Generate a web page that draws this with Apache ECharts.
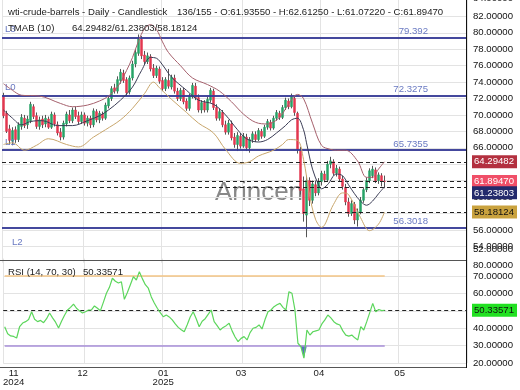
<!DOCTYPE html>
<html><head><meta charset="utf-8">
<script src="https://cdn.jsdelivr.net/npm/echarts@6/dist/echarts.min.js"></script>
<style>html,body{margin:0;padding:0;background:#fff}#c{width:520px;height:390px}</style>
</head><body><div id="c"></div>
<script>
const slotCount = 155;
const open  = [72.3,70.2,68.3,66.8,68.2,67.0,68.6,69.6,68.8,69.3,71.0,69.9,68.6,69.5,68.9,69.5,68.5,70.0,68.8,67.9,67.3,68.9,70.0,69.3,70.6,69.9,69.2,70.0,69.0,69.6,68.8,70.4,69.4,70.1,69.6,71.1,72.0,73.3,72.9,74.2,75.1,74.3,72.8,74.5,76.2,77.5,79.2,77.3,76.5,77.1,75.7,74.8,75.6,74.2,73.2,74.2,73.4,74.5,72.9,72.0,73.0,71.7,70.8,72.2,73.5,72.1,70.6,71.5,70.6,71.8,72.9,70.9,69.6,70.3,68.8,67.9,68.9,67.3,66.4,67.4,66.2,67.3,66.0,67.0,67.6,67.0,68.0,67.4,68.5,69.1,68.4,69.6,70.2,69.7,70.9,71.7,71.0,72.0,70.2,65.7,61.0,57.8,62.0,59.6,61.5,60.5,61.9,62.8,62.1,64.0,64.3,62.9,63.4,62.2,61.2,59.4,58.0,59.1,57.2,58.2,59.6,60.9,62.0,62.6,63.3,62.0,62.6,61.9355];
const high  = [72.7,70.5,68.8,68.5,68.6,69.1,70.1,70.0,69.9,71.6,71.3,70.3,69.8,69.9,70.0,69.8,70.4,70.3,69.2,68.4,69.3,70.4,70.6,70.9,71.0,70.4,70.4,70.3,69.9,69.9,70.8,70.7,70.5,70.4,71.5,72.3,73.5,73.8,74.7,75.6,75.5,74.6,74.8,76.6,78.0,79.8,79.6,77.8,77.6,77.4,76.2,76.0,75.9,74.6,74.6,75.6,74.9,74.9,73.3,73.3,73.3,72.0,72.6,73.9,73.9,72.5,71.8,71.8,72.2,73.3,73.2,71.3,70.8,70.6,69.3,69.4,69.3,67.8,67.9,67.8,67.8,67.7,67.3,68.0,68.0,68.4,68.3,68.8,69.5,69.4,69.9,70.6,70.5,71.2,72.1,72.0,72.6,72.4,70.4,66.1,62.5,62.6,62.4,62.0,62.0,62.3,63.2,63.2,64.4,64.9,64.6,63.9,63.7,62.6,61.6,59.9,59.6,59.4,58.6,60.0,61.2,62.4,63.5,63.8,63.6,63.0,62.9,62.6125];
const low   = [69.6,67.8,66.4,66.3,66.6,66.7,68.2,68.4,68.3,69.0,69.5,68.3,68.2,68.4,68.5,68.3,68.3,68.6,67.5,66.9,67.0,68.6,69.0,69.0,69.5,68.9,68.9,68.7,68.6,68.4,68.5,69.1,69.0,69.3,69.4,70.8,71.7,72.6,72.6,73.8,73.9,72.3,72.5,74.2,75.8,77.2,76.8,76.1,76.2,75.3,74.5,74.5,73.8,72.9,72.9,73.2,73.1,72.6,71.7,71.7,71.3,70.5,70.5,72.0,71.8,70.3,70.2,70.3,70.3,71.5,70.6,69.3,69.3,68.5,67.6,67.6,66.9,66.0,65.6,65.9,66.0,65.6,65.4,66.6,66.7,66.8,67.1,67.2,68.2,68.1,68.2,69.3,69.4,69.5,70.6,70.7,70.8,69.9,65.3,60.3,57.0,55.1,58.9,59.2,60.1,60.2,61.4,61.8,61.9,63.5,62.6,62.5,61.9,60.9,59.0,57.6,57.7,56.7,56.4,57.9,59.3,60.6,61.7,62.3,61.7,61.6,61.3,61.0722];
const close = [69.9,68.0,66.9,68.1,67.0,68.8,69.7,68.7,69.5,71.3,69.8,68.6,69.4,68.8,69.6,68.5,70.1,68.9,67.8,67.3,69.0,70.1,69.3,70.6,69.8,69.2,70.0,69.0,69.6,68.8,70.5,69.4,70.2,69.6,71.2,72.0,73.2,72.9,74.3,75.2,74.2,72.7,74.5,76.2,77.6,79.3,77.2,76.5,77.2,75.6,74.8,75.7,74.1,73.2,74.3,73.5,74.6,72.9,72.0,73.0,71.6,70.8,72.3,73.6,72.1,70.6,71.5,70.6,71.9,73.0,70.9,69.6,70.4,68.8,67.9,69.0,67.2,66.4,67.5,66.2,67.4,66.0,67.0,67.7,67.0,68.1,67.4,68.5,69.2,68.4,69.6,70.3,69.7,70.9,71.8,71.0,72.2,70.3,65.8,60.8,58.0,62.0,59.6,61.6,60.5,61.9,62.9,62.1,64.0,64.4,62.9,63.5,62.2,61.3,59.4,58.0,59.2,57.2,58.2,59.6,60.9,62.0,63.2,63.4,62.0,62.7,61.9,61.8947];
const rsi = [40.9,36.8,35.6,35.3,34.4,41.0,43.0,43.8,45.0,49.5,45.2,43.8,44.5,43.2,45.5,48.8,46.0,43.5,40.2,44.0,47.5,50.5,52.0,53.9,51.5,50.0,48.8,49.5,50.5,50.5,52.8,51.5,50.1,55.0,60.1,63.5,68.7,67.0,66.0,66.7,56.6,60.5,65.0,69.6,67.7,72.5,68.5,65.0,63.0,58.0,54.5,51.5,49.0,46.6,47.6,46.5,44.8,42.5,40.5,39.2,38.0,42.0,46.5,49.5,45.5,40.9,44.0,45.5,48.0,50.5,43.8,41.5,39.0,40.5,41.5,42.9,38.5,35.0,32.3,34.2,35.2,33.3,37.5,40.0,40.5,41.9,39.6,45.0,49.5,50.5,52.4,53.5,54.3,52.0,50.5,61.0,60.1,50.5,31.4,29.4,22.8,39.0,36.1,38.0,38.5,39.0,42.5,44.8,47.6,46.0,43.8,42.5,41.9,38.5,36.1,35.5,36.1,34.5,33.3,40.9,39.0,43.8,49.0,54.3,49.5,50.8,50.1,50.33571];
const tmaMid = [[0,70.6],[3,69.6],[6,68.8],[9,69.2],[13,69.3],[18,68.7],[23,68.7],[28,69.3],[32,69.9],[35,70.6],[39,71.8],[43,73.4],[46,75.4],[49,77.0],[51,76.9],[53,76.1],[56,74.6],[61,73.0],[65,71.8],[70,71.3],[74,70.0],[78,68.2],[81,67.1],[85,66.7],[88,67.0],[91,67.8],[94,68.7],[96,69.4],[98,69.6],[100,68.2],[101,66.6],[103,63.4],[105,61.5],[106,61.0],[108,61.5],[111,62.8],[113,62.6],[115,61.5],[117,60.4],[119,59.5],[121,59.0],[123,59.5],[125,60.4],[127,61.23803]];
const tmaUpper = [[0,73.8],[3,73.0],[6,72.4],[12,72.3],[19,71.4],[23,71.0],[28,71.2],[32,71.7],[35,72.3],[38,73.4],[41,75.4],[43,77.0],[45,79.0],[47,80.5],[49,81.0],[51,80.4],[53,78.9],[55,77.6],[59,76.0],[63,74.5],[68,73.7],[72,72.9],[76,71.6],[80,70.1],[84,69.1],[88,68.9],[92,69.7],[95,71.3],[98,72.5],[100,72.0],[103,69.0],[106,66.3],[109,65.8],[111,65.7],[114,65.7],[118,64.4],[121,62.4],[123,62.4],[125,63.4],[127,64.29482]];
const tmaLower = [[0,66.4],[3,66.6],[7,65.7],[11,66.3],[15,67.1],[21,66.4],[25,66.1],[30,67.3],[34,68.2],[39,69.4],[43,70.8],[47,72.6],[50,74.0],[52,73.3],[56,71.9],[61,70.3],[65,69.0],[70,67.8],[74,65.8],[79,64.1],[82,64.3],[85,65.0],[90,65.7],[93,66.4],[95,67.0],[98,66.9],[100,64.6],[102,60.3],[104,57.3],[106,56.3],[110,59.1],[113,60.5],[115,60.3],[119,57.5],[122,55.9],[125,56.7],[127,58.18124]];
const levels = [79.392, 72.3275, 65.7355, 56.3018];
const levelNames = ['L3','L0','L1','L2'];
const tickIdx = [3,26,53,79,105,132];
const tickText = ['11\n2024','12','01\n2025','03','04','05'];
const gridIdx = [0,27,53,80,106,132];
const rsiBands = [70, 30];

const FONT = "'Liberation Sans', Arial, sans-serif";
const FS = 9.6;
const last = close.length - 1;
const cats = Array.from({length: slotCount}, (_, i) => String(i));
const wickData = open.map((o, i) => [o, o, low[i], high[i]]);
const bodyData = open.map((o, i) => [o, close[i], Math.min(o, close[i]), Math.max(o, close[i])]);
const upLast = tmaUpper[tmaUpper.length-1][1], midLast = tmaMid[tmaMid.length-1][1], lowLast = tmaLower[tmaLower.length-1][1];
const oversold = rsi.map((v, i) => (v < 30 || rsi[i-1] < 30 || rsi[i+1] < 30) ? Math.min(v, 30) : '-');
const f5 = v => Number(v).toFixed(5);

const tagLabel = (val, bg, fg, off) => ({show:true, position:'end', distance:5, formatter: f5(val), fontSize:FS, fontFamily:FONT, color:fg, backgroundColor:bg, padding:[2,3,1,2], offset: off || [0,0]});
const dash = {color:'#222', type:[4,3], width:1};
const lvlColor = '#383c97', lvlText = '#6a7ac2';

const xAxisBase = (gi, showLabel) => ({
  type:'category', gridIndex:gi, data:cats, boundaryGap:true,
  axisLine:{show:false}, axisTick:{show:false},
  axisLabel:{show:showLabel, interval:(i)=>tickIdx.includes(i), formatter:(v,i)=>tickText[tickIdx.indexOf(i)] || '', fontSize:FS, fontFamily:FONT, color:'#222', lineHeight:9, margin:6},
  splitLine:{show:true, interval:(i)=>gridIdx.includes(i), lineStyle:{color:'#e3e3e3', width:1}}
});

const option = {
  animation:false,
  textStyle:{fontFamily:FONT},
  title:[
    {text:'wti-crude-barrels - Daily - Candlestick', left:8, top:7},
    {text:`136/155 - O:${f5(open[last])} - H:${f5(high[last])} - L:${f5(low[last])} - C:${f5(close[last])}`, left:177, top:7},
    {text:'TMAB (10)', left:8, top:23},
    {text:`${f5(upLast)}/${f5(midLast)}/${f5(lowLast)}`, left:72, top:23},
    {text:'RSI (14, 70, 30)', left:8, top:267.5},
    {text:f5(rsi[last]), left:83, top:267.5}
  ].map(t => Object.assign(t, {padding:0, textStyle:{fontSize:FS, fontWeight:'normal', color:'#222', fontFamily:FONT}})),
  grid:[
    {left:2, right:53, top:-5.3, height:268},
    {left:2, right:53, top:258.6, height:104.5}
  ],
  xAxis:[xAxisBase(0,false), xAxisBase(1,true)],
  yAxis:[
    {type:'value', gridIndex:0, position:'right', min:52, max:84, interval:2,
     axisLine:{show:false}, axisTick:{show:false},
     axisLabel:{margin:6, fontSize:FS, fontFamily:FONT, color:'#111', formatter:f5, showMinLabel:false, showMaxLabel:false},
     splitLine:{lineStyle:{color:'#e3e3e3'}, showMinLine:false, showMaxLine:false}},
    {type:'value', gridIndex:1, position:'right', min:20, max:80, interval:10,
     axisLine:{show:false}, axisTick:{show:false},
     axisLabel:{margin:6, fontSize:FS, fontFamily:FONT, color:'#111', formatter:f5, showMaxLabel:false},
     splitLine:{lineStyle:{color:'#e3e3e3'}, showMaxLine:false}}
  ],
  graphic:[
    {type:'text', x:259, y:193, z:0, style:{text:'Arincen', fill:'rgba(115,115,115,0.85)', font:`26px ${FONT}`, textAlign:'center', textVerticalAlign:'middle'}},
    {type:'text', x:473, y:-1.5, z:10, style:{text:'84.00000', fill:'#111', font:`${FS}px ${FONT}`, textVerticalAlign:'middle'}},
    {type:'text', x:473, y:249.5, z:10, style:{text:'52.00000', fill:'#111', font:`${FS}px ${FONT}`, textVerticalAlign:'middle'}},
    {type:'text', x:473, y:265, z:10, style:{text:'80.00000', fill:'#111', font:`${FS}px ${FONT}`, textVerticalAlign:'middle'}},
    {type:'line', z:10, shape:{x1:0,y1:260.5,x2:467,y2:260.5}, style:{stroke:'#555', lineWidth:1}},
    {type:'line', z:10, shape:{x1:0,y1:367.5,x2:467,y2:367.5}, style:{stroke:'#555', lineWidth:1}},
    {type:'line', z:10, shape:{x1:466.5,y1:0,x2:466.5,y2:368}, style:{stroke:'#111', lineWidth:1}}
  ],
  series:[
    {type:'candlestick', name:'wick', xAxisIndex:0, yAxisIndex:0, data:wickData, barWidth:1, z:3,
     itemStyle:{color:'#555', color0:'#555', borderColor:'#555', borderColor0:'#555', borderColorDoji:'#555', borderWidth:1},
     markLine:{symbol:'none', silent:true, animation:false, precision:5,
       data: levels.flatMap((v,k)=>[
         {yAxis:v, lineStyle:{color:lvlColor, width:1.5, type:'solid'}, label:{show:true, position:'insideEndTop', formatter:String(v), color:lvlText, fontSize:FS, fontFamily:FONT, distance:1, padding:[0,38,0,0]}},
         {yAxis:v, lineStyle:{color:lvlColor, width:1.5, type:'solid'}, label:{show:true, position:k===3?'insideStartBottom':'insideStartTop', formatter:levelNames[k], color:lvlText, fontSize:FS, fontFamily:FONT, distance:k===3?10:3}}
       ])}},
    {type:'candlestick', name:'body', xAxisIndex:0, yAxisIndex:0, data:bodyData, barWidth:2, z:4,
     itemStyle:{color:'#27a267', color0:'#e2374f', borderColor:'#27a267', borderColor0:'#e2374f', borderWidth:0.5},
     markLine:{symbol:'none', silent:true, animation:false, precision:5, lineStyle:dash,
       data:[
         {yAxis:upLast, lineStyle:dash, label:tagLabel(upLast,'#b3303f','#fff')},
         {yAxis:close[last], lineStyle:dash, label:tagLabel(close[last],'#f04f68','#fff')},
         {yAxis:midLast, lineStyle:dash, label:tagLabel(midLast,'#232a6c','#fff',[0,6])},
         {yAxis:lowLast, lineStyle:dash, label:tagLabel(lowLast,'#c9a23e','#111')}
       ]}},
    {type:'line', xAxisIndex:0, yAxisIndex:0, data:tmaUpper, smooth:0.35, symbol:'none', z:5, lineStyle:{color:'#a5606c', width:1}},
    {type:'line', xAxisIndex:0, yAxisIndex:0, data:tmaLower, smooth:0.35, symbol:'none', z:5, lineStyle:{color:'#c8a66c', width:1}},
    {type:'line', xAxisIndex:0, yAxisIndex:0, data:tmaMid, smooth:0.35, symbol:'none', z:5, lineStyle:{color:'#3a3c55', width:1}},
    {type:'line', xAxisIndex:1, yAxisIndex:1, data:oversold, symbol:'none', z:3, lineStyle:{width:0}, areaStyle:{origin:30, color:'#5b6dc0', opacity:1}},
    {type:'line', xAxisIndex:1, yAxisIndex:1, data:rsi, symbol:'none', z:5, lineStyle:{color:'#5cd65c', width:1.2},
     markLine:{symbol:'none', silent:true, animation:false, precision:5,
       data:[
         [{coord:[cats[0], rsiBands[0]], lineStyle:{color:'#f3c585', width:1.5, type:'solid'}, label:{show:false}}, {coord:[cats[last], rsiBands[0]]}],
         [{coord:[cats[0], rsiBands[1]], lineStyle:{color:'#a78ed8', width:1.5, type:'solid'}, label:{show:false}}, {coord:[cats[last], rsiBands[1]]}],
         {yAxis:rsi[last], lineStyle:dash, label:tagLabel(rsi[last],'#22e022','#111')}
       ]}}
  ]
};
const chart = echarts.init(document.getElementById('c'), null, {renderer:'canvas'});
chart.setOption(option);
</script></body></html>
